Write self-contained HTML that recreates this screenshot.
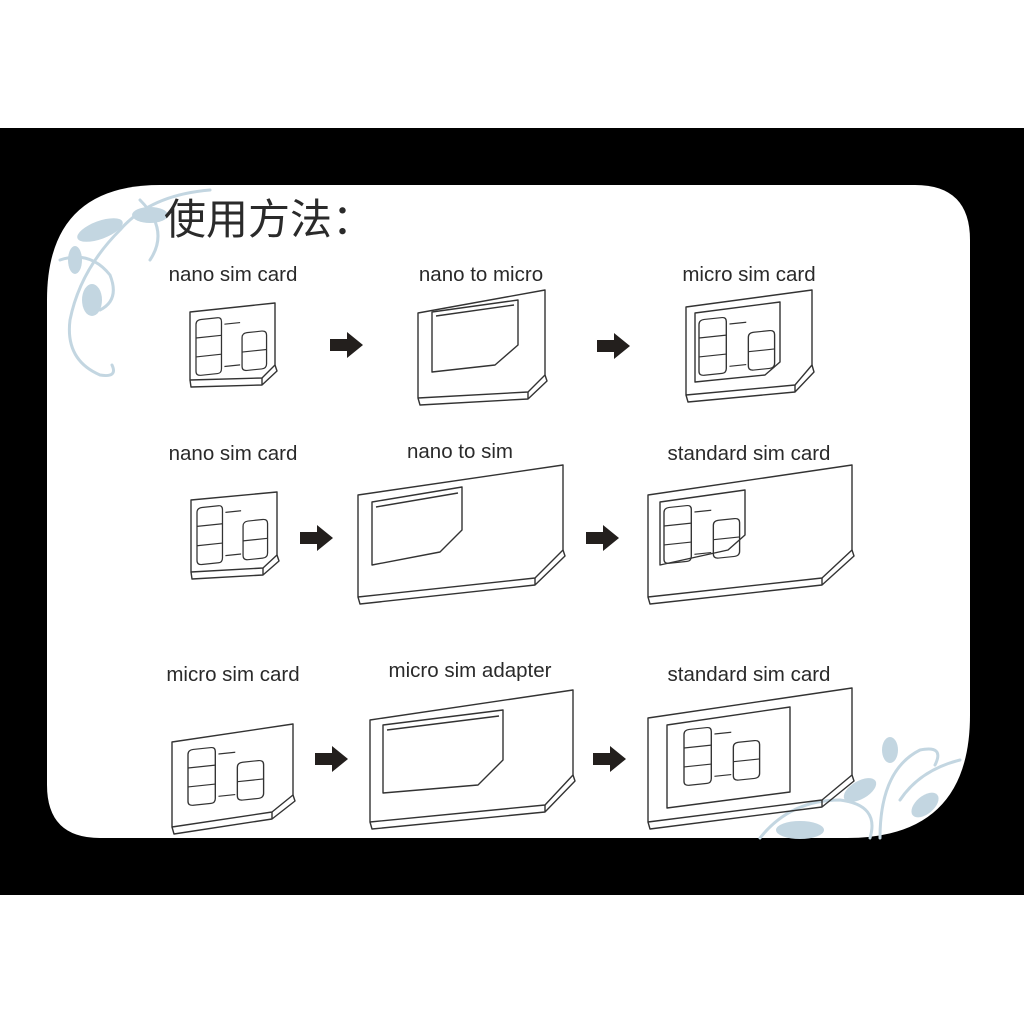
<!DOCTYPE html>
<html><head><meta charset="utf-8"><style>
html,body{margin:0;padding:0;background:#fff;}
svg{display:block}
text{font-family:"Liberation Sans","Noto Sans CJK SC",sans-serif;fill:#2a2a2a}
</style></head><body>
<svg width="1024" height="1024" viewBox="0 0 1024 1024" xmlns="http://www.w3.org/2000/svg">
<defs>
<g id="chip" fill="none" stroke="#333" stroke-width="1.3">
  <path d="M5,0 H22 Q26,0 26,5 V57 Q26,62 22,62 H5 Q0,62 0,57 V5 Q0,0 5,0 Z"/>
  <path d="M0,20 H26 M0,41 H26"/>
  <path d="M52,20 H67 Q72,20 72,25 V57 Q72,62 67,62 H52 Q47,62 47,57 V25 Q47,20 52,20 Z"/>
  <path d="M47,41 H72"/>
  <path d="M29,8 H45 M29,55 H45"/>
</g>
<g id="arrow"><path d="M0,7 H17 V0 L33,13 L17,26 V19 H0 Z" fill="#231f1d"/></g>
</defs>
<rect width="1024" height="1024" fill="#fff"/>
<rect x="0" y="128" width="1024" height="767" fill="#000"/>
<path d="M160,185 H915 Q970,185 970,240 V715 Q970,838 847,838 H100 Q47,838 47,785 V300 Q47,185 160,185 Z" fill="#fff"/>

<!-- swirls -->
<g fill="none" stroke="#c3d6e1" stroke-width="3" stroke-linecap="round">
  <path d="M210,190 Q150,195 120,230 Q80,270 70,320 Q65,360 100,375 Q118,378 112,365"/>
  <path d="M60,260 Q90,250 110,275 Q120,300 100,310"/>
  <path d="M140,200 Q170,230 150,260"/>
  <path d="M880,838 Q880,770 920,750 Q945,745 935,765"/>
  <path d="M760,838 Q790,800 840,800 Q880,805 870,838"/>
  <path d="M900,800 Q920,770 960,760"/>
</g>
<g fill="#c3d6e1">
  <ellipse cx="100" cy="230" rx="24" ry="9" transform="rotate(-20 100 230)"/>
  <ellipse cx="92" cy="300" rx="10" ry="16"/>
  <ellipse cx="150" cy="215" rx="18" ry="8"/>
  <ellipse cx="75" cy="260" rx="7" ry="14"/>
  <ellipse cx="860" cy="790" rx="18" ry="9" transform="rotate(-30 860 790)"/>
  <ellipse cx="800" cy="830" rx="24" ry="9"/>
  <ellipse cx="925" cy="805" rx="16" ry="9" transform="rotate(-40 925 805)"/>
  <ellipse cx="890" cy="750" rx="8" ry="13"/>
</g>

<text x="164" y="234" font-size="42">使用方法：</text>
<g font-size="20.5" text-anchor="middle">
<text x="233" y="281">nano sim card</text>
<text x="481" y="281">nano to micro</text>
<text x="749" y="281">micro sim card</text>
<text x="233" y="460">nano sim card</text>
<text x="460" y="458">nano to sim</text>
<text x="749" y="460">standard sim card</text>
<text x="233" y="681">micro sim card</text>
<text x="470" y="677">micro sim adapter</text>
<text x="749" y="681">standard sim card</text>
</g>

<g fill="none" stroke="#333" stroke-width="1.4" stroke-linejoin="round">
<path d="M190,312 L275,303 L275,365 L262,378 L190,380 Z" fill="#fff"/>
<path d="M190,380 L191,387 L262,385 L277,371 L275,365 M262,378 L262,385"/>
<path d="M418,313 L545,290 L545,375 L528,392 L418,398 Z" fill="#fff"/>
<path d="M418,398 L420,405 L528,399 L547,381 L545,375 M528,392 L528,399"/>
<path d="M432,312 L518,300 L518,345 L495,365 L432,372 Z"/>
<path d="M436,316 L514,305"/>
<path d="M686,307 L812,290 L812,365 L795,385 L686,395 Z" fill="#fff"/>
<path d="M686,395 L688,402 L795,392 L814,372 L812,365 M795,385 L795,392"/>
<path d="M695,313 L780,302 L780,362 L765,375 L695,382 Z"/>
<path d="M191,500 L277,492 L277,555 L263,568 L191,572 Z" fill="#fff"/>
<path d="M191,572 L192,579 L263,575 L279,561 L277,555 M263,568 L263,575"/>
<path d="M358,495 L563,465 L563,550 L535,578 L358,597 Z" fill="#fff"/>
<path d="M358,597 L360,604 L535,585 L565,556 L563,550 M535,578 L535,585"/>
<path d="M372,502 L462,487 L462,530 L440,552 L372,565 Z"/>
<path d="M376,507 L458,493"/>
<path d="M648,495 L852,465 L852,550 L822,578 L648,597 Z" fill="#fff"/>
<path d="M648,597 L650,604 L822,585 L854,556 L852,550 M822,578 L822,585"/>
<path d="M660,502 L745,490 L745,535 L728,550 L660,565 Z"/>
<path d="M172,742 L293,724 L293,795 L272,812 L172,827 Z" fill="#fff"/>
<path d="M172,827 L174,834 L272,819 L295,801 L293,795 M272,812 L272,819"/>
<path d="M370,720 L573,690 L573,775 L545,805 L370,822 Z" fill="#fff"/>
<path d="M370,822 L372,829 L545,812 L575,781 L573,775 M545,805 L545,812"/>
<path d="M383,725 L503,710 L503,760 L478,785 L383,793 Z"/>
<path d="M387,730 L499,716"/>
<path d="M648,718 L852,688 L852,775 L822,800 L648,822 Z" fill="#fff"/>
<path d="M648,822 L650,829 L822,807 L854,781 L852,775 M822,800 L822,807"/>
<path d="M667,725 L790,707 L790,792 L667,808 Z"/>
</g>

<use href="#chip" transform="translate(196,320) skewY(-6) scale(0.98,0.9)"/>
<use href="#chip" transform="translate(699,320) skewY(-6) scale(1.05,0.9)"/>
<use href="#chip" transform="translate(197,508) skewY(-6) scale(0.98,0.92)"/>
<use href="#chip" transform="translate(664,508) skewY(-6) scale(1.05,0.9)"/>
<use href="#chip" transform="translate(188,750) skewY(-6) scale(1.05,0.9)"/>
<use href="#chip" transform="translate(684,730) skewY(-6) scale(1.05,0.9)"/>

<use href="#arrow" transform="translate(330,332)"/>
<use href="#arrow" transform="translate(597,333)"/>
<use href="#arrow" transform="translate(300,525)"/>
<use href="#arrow" transform="translate(586,525)"/>
<use href="#arrow" transform="translate(315,746)"/>
<use href="#arrow" transform="translate(593,746)"/>
</svg>
</body></html>
